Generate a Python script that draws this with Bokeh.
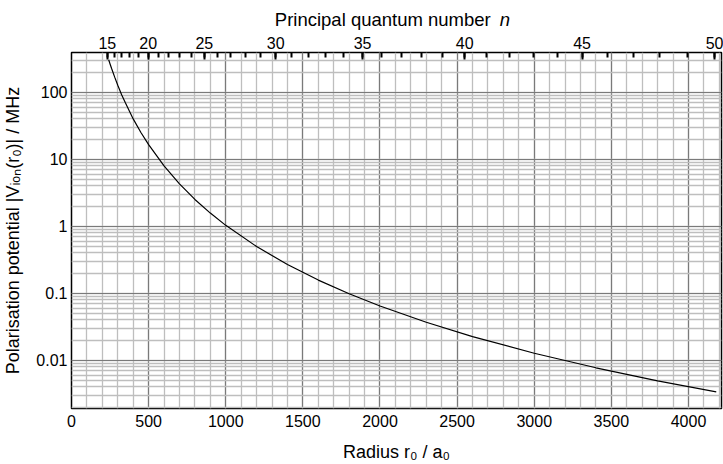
from bokeh.plotting import figure
from bokeh.layouts import column
from bokeh.models import (LinearAxis, FixedTicker, SingleIntervalTicker,
                          CustomJSTickFormatter, Range1d, ColumnDataSource)
from bokeh.core.properties import value
from bokeh.embed import file_html
from bokeh.resources import INLINE

# ---- data ----
radius = [241, 250, 260, 280, 300, 325, 350, 400, 450, 500, 600, 700, 800, 900,
          1000, 1200, 1400, 1600, 1800, 2000, 2300, 2600, 3000, 3400, 3800, 4180]
potential = [305, 264, 226, 168, 127, 92, 69, 40, 25.1, 16.5, 7.95, 4.29, 2.51, 1.57,
             1.03, 0.497, 0.268, 0.157, 0.098, 0.0644, 0.0368, 0.0225, 0.0127,
             0.0077, 0.0049, 0.00337]

n_major = [15, 20, 25, 30, 35, 40, 45, 50]
n_minor = list(range(15, 51))
y_major = [0.01, 0.1, 1, 10, 100]


def n_to_radius(n):
    # mapping of the top (quantum number) axis onto the radius axis, fitted to the reference
    return round(1.988 * (n - 4.195) ** 2)


FONT = "Liberation Sans"
X_RANGE = Range1d(0, 4214)

# ---------------- main plot ----------------
p = figure(width=723, height=434, y_axis_type="log",
           x_range=X_RANGE, y_range=Range1d(0.0019, 392),
           output_backend="svg", toolbar_location=None,
           min_border_left=70, min_border_right=2, min_border_top=22, min_border_bottom=56)
p.background_fill_color = "white"
p.border_fill_color = "white"
p.outline_line_color = "black"
p.outline_line_width = 1.5

xt = SingleIntervalTicker(interval=500, num_minor_ticks=5)
p.xaxis.ticker = xt
p.xgrid.ticker = xt
ym = []
for d in [0.001, 0.01, 0.1, 1, 10, 100]:
    for k in range(1, 10):
        v = round(k * d, 6)
        if 0.0019 <= v <= 392:
            ym.append(v)
yt = FixedTicker(ticks=y_major, minor_ticks=ym)
p.yaxis.ticker = yt
p.ygrid.ticker = yt
p.yaxis.formatter = CustomJSTickFormatter(code="return tick >= 1 ? tick.toFixed(0) : String(tick);")

for ax in (p.xaxis[0], p.yaxis[0]):
    ax.major_tick_out = 0
    ax.major_tick_in = 0
    ax.minor_tick_out = 0
    ax.minor_tick_in = 0
    ax.axis_line_color = None
    ax.major_label_text_font = FONT
    ax.major_label_text_font_size = "16px"
    ax.major_label_text_color = "black"
    ax.axis_label_text_font = FONT
    ax.axis_label_text_font_size = "18px"
    ax.axis_label_text_font_style = "normal"
    ax.axis_label_text_color = "black"

p.xaxis.major_label_standoff = 6
p.yaxis.major_label_standoff = 4
p.xaxis.axis_label = "Radius r\u2080 / a\u2080"
p.xaxis.axis_label_standoff = 12
p.yaxis.axis_label = "Polarisation potential |V\u1d62\u2092\u2099(r\u2080)| / MHz"
p.yaxis.axis_label_standoff = 10

for g in (p.xgrid[0], p.ygrid[0]):
    g.grid_line_color = "#7a7a7a"
    g.grid_line_width = 1.2
    g.minor_grid_line_color = "#bebebe"
    g.minor_grid_line_width = 1.3

top_ticks = [n_to_radius(n) for n in n_major]
top_minor = [n_to_radius(n) for n in n_minor]
top = LinearAxis(ticker=FixedTicker(ticks=top_ticks, minor_ticks=top_minor),
                 major_label_overrides={r: str(n) for r, n in zip(top_ticks, n_major)})
top.axis_line_color = None
top.major_tick_in = 7
top.major_tick_out = 0
top.minor_tick_in = 5
top.minor_tick_out = 0
top.major_tick_line_width = 2
top.minor_tick_line_width = 2
top.major_tick_line_color = "black"
top.minor_tick_line_color = "black"
top.major_label_standoff = 4
top.major_label_text_font = FONT
top.major_label_text_font_size = "16px"
top.major_label_text_color = "black"
p.add_layout(top, "above")

src = ColumnDataSource(dict(r=radius, v=potential))
p.line("r", "v", source=src, line_color="black", line_width=1.2)

# ---------------- top title strip (mixed upright / italic text) ----------------
t = figure(width=723, height=30, x_range=X_RANGE, y_range=Range1d(0, 30),
           output_backend="svg", toolbar_location=None,
           x_axis_location=None, y_axis_location=None,
           min_border_left=70, min_border_right=2, min_border_top=0, min_border_bottom=0)
t.outline_line_color = None
t.grid.visible = False
t.background_fill_color = "white"
t.border_fill_color = "white"
t.text(x=[2718], y=[11.5], text=["Principal quantum number"], text_align="right",
       text_baseline="alphabetic", text_font=value(FONT), text_font_size="18.5px",
       text_color="black")
t.text(x=[2776], y=[11.5], text=["n"], text_align="left",
       text_baseline="alphabetic", text_font=value(FONT), text_font_size="18.5px",
       text_font_style="italic", text_color="black")

layout = column(t, p, spacing=0)
open("out.html", "w").write(file_html(layout, INLINE))
